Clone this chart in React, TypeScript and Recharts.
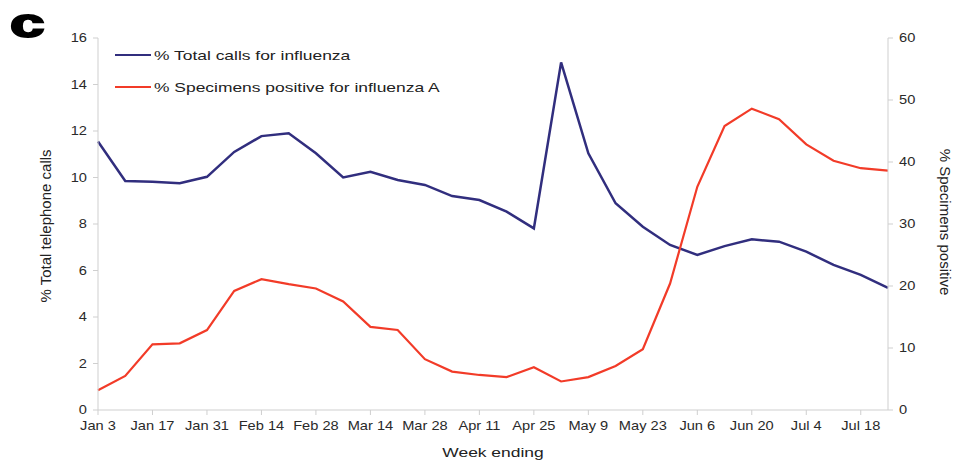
import React from 'react'
import { LineChart, Line, XAxis, YAxis, Legend } from 'recharts'

const weeks = [
  'Jan 3', 'Jan 10', 'Jan 17', 'Jan 24', 'Jan 31', 'Feb 7', 'Feb 14', 'Feb 21', 'Feb 28', 'Mar 7',
  'Mar 14', 'Mar 21', 'Mar 28', 'Apr 4', 'Apr 11', 'Apr 18', 'Apr 25', 'May 2', 'May 9', 'May 16',
  'May 23', 'May 30', 'Jun 6', 'Jun 13', 'Jun 20', 'Jun 27', 'Jul 4', 'Jul 11', 'Jul 18', 'Jul 25',
]

// % of all telephone calls that were about influenza (left axis)
const callsPct = [
  11.55, 9.85, 9.82, 9.75, 10.03, 11.1, 11.78, 11.9, 11.04, 10.0,
  10.25, 9.89, 9.68, 9.2, 9.03, 8.53, 7.81, 14.95, 11.04, 8.89,
  7.88, 7.1, 6.67, 7.05, 7.34, 7.24, 6.81, 6.24, 5.81, 5.25,
]

// % of specimens positive for influenza A (right axis)
const positivePct = [
  3.2, 5.5, 10.6, 10.75, 12.9, 19.2, 21.1, 20.3, 19.6, 17.5,
  13.4, 12.9, 8.2, 6.2, 5.65, 5.3, 6.9, 4.6, 5.3, 7.1,
  9.8, 20.4, 36.0, 45.8, 48.6, 46.9, 42.85, 40.2, 39.0, 38.6,
]

const leftTicks = [0, 2, 4, 6, 8, 10, 12, 14, 16]
const rightTicks = [0, 10, 20, 30, 40, 50, 60]
const seriesOrder = ['calls', 'positive']

const BLUE = '#312e7e'
const RED = '#f23b28'
const AXIS = '#cfcfcf'
const FONT = '"Liberation Sans", Arial, sans-serif'
// the source figure is stretched sideways, so flat text is widened to match
const TICK_STRETCH = 1.22
const TEXT_STRETCH = 1.34

const data = weeks.map((week, i) => ({
  week,
  calls: callsPct[i],
  positive: positivePct[i],
}))

function StretchTick({ x, y, payload, textAnchor, verticalAnchor }: any) {
  const dy = verticalAnchor === 'start' ? '0.71em' : verticalAnchor === 'end' ? '-0.29em' : '0.355em'
  return (
    <g transform={`translate(${x},${y}) scale(${TICK_STRETCH},1)`}>
      <text x={0} y={0} dy={dy} textAnchor={textAnchor} fill="#2a2a2a" fontSize={12} fontFamily={FONT}>
        {payload.value}
      </text>
    </g>
  )
}

function LegendBox({ payload }: any) {
  const items = [...(payload || [])].sort(
    (a: any, b: any) => seriesOrder.indexOf(a.dataKey) - seriesOrder.indexOf(b.dataKey)
  )
  return (
    <div style={{ fontFamily: FONT, fontSize: 13, color: '#222' }}>
      {items.map((p: any) => (
        <div key={p.value} style={{ display: 'flex', alignItems: 'center', height: 32, whiteSpace: 'nowrap' }}>
          <span style={{ display: 'inline-block', width: 36, height: 2.5, background: p.color, marginRight: 3 }} />
          <span style={{ display: 'inline-block', transform: `scaleX(${TEXT_STRETCH})`, transformOrigin: 'left center' }}>
            {p.value}
          </span>
        </div>
      ))}
    </div>
  )
}

export default function App() {
  return (
    <div style={{ position: 'relative', width: 945, height: 453, fontFamily: FONT }}>
      {/* panel letter */}
      <div
        style={{
          position: 'absolute',
          left: 2,
          top: -5,
          lineHeight: '40px',
          fontSize: 40,
          fontWeight: 700,
          color: '#000',
          WebkitTextStroke: '2px #000',
          transform: 'scaleX(1.55)',
          transformOrigin: 'left top',
        }}
      >
        c
      </div>

      <LineChart width={945} height={453} data={data} margin={{ top: 30, right: 8, bottom: 12, left: 0 }}>
        <XAxis
          dataKey="week"
          interval={1}
          padding={{ left: 0, right: 0 }}
          height={39}
          tick={<StretchTick />}
          tickSize={5}
          tickMargin={6}
          stroke={AXIS}
          tickLine={{ stroke: AXIS }}
        />
        <YAxis
          yAxisId="left"
          domain={[0, 16]}
          ticks={leftTicks}
          width={90}
          tick={<StretchTick />}
          tickSize={5}
          tickMargin={6}
          stroke={AXIS}
          tickLine={{ stroke: AXIS }}
        />
        <YAxis
          yAxisId="right"
          orientation="right"
          domain={[0, 60]}
          ticks={rightTicks}
          width={57}
          tick={<StretchTick />}
          tickSize={5}
          tickMargin={6}
          stroke={AXIS}
          tickLine={{ stroke: AXIS }}
        />
        <Legend
          layout="vertical"
          verticalAlign="middle"
          align="center"
          content={<LegendBox />}
          wrapperStyle={{ top: 31, left: 107, width: 'auto' }}
        />
        <Line
          yAxisId="left"
          type="linear"
          dataKey="calls"
          name="% Total calls for influenza"
          stroke={BLUE}
          strokeWidth={2.5}
          dot={false}
          isAnimationActive={false}
        />
        <Line
          yAxisId="right"
          type="linear"
          dataKey="positive"
          name="% Specimens positive for influenza A"
          stroke={RED}
          strokeWidth={2.2}
          dot={false}
          isAnimationActive={false}
        />
      </LineChart>

      {/* axis titles */}
      <div style={{ position: 'absolute', left: 37, top: 218, transform: 'translate(-50%, -50%) rotate(-90deg)', whiteSpace: 'nowrap', fontSize: 15, color: '#222' }}>
        % Total telephone calls
      </div>
      <div style={{ position: 'absolute', left: 937, top: 214, transform: 'translate(-50%, -50%) rotate(90deg)', whiteSpace: 'nowrap', fontSize: 15, color: '#222' }}>
        % Specimens positive
      </div>
      <div style={{ position: 'absolute', left: 485, top: 444, transform: `translate(-50%, -50%) scaleX(${TEXT_STRETCH})`, whiteSpace: 'nowrap', fontSize: 13, color: '#222' }}>
        Week ending
      </div>
    </div>
  )
}
